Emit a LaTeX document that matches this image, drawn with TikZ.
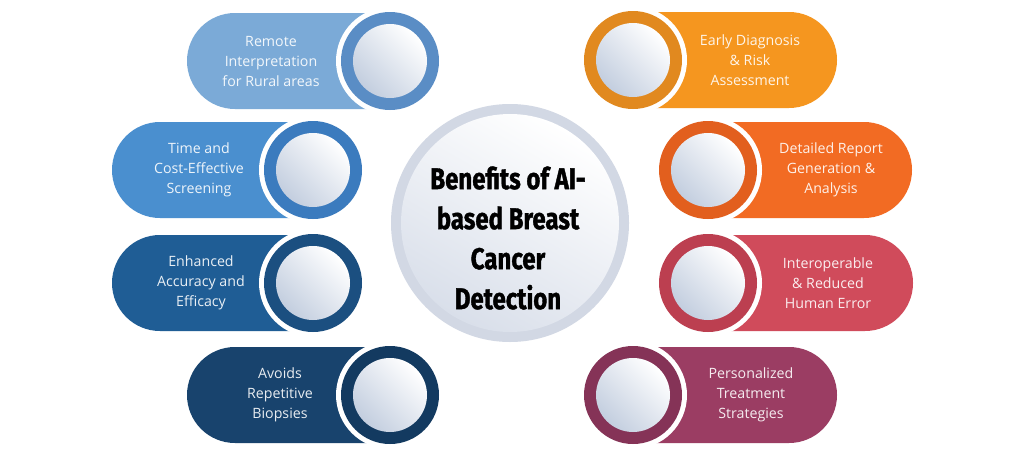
\documentclass[tikz,border=0pt]{standalone}
\usepackage{fontspec}
\setmainfont{Open Sans}
\newfontfamily\titlefont[FakeStretch=0.8,FakeBold=1.2]{Fira Sans}
\usepackage{tikz}
\usetikzlibrary{calc}

\definecolor{pillA}{HTML}{7BAAD7}
\definecolor{ringA}{HTML}{5A8DC5}
\definecolor{pillB}{HTML}{4A8FCF}
\definecolor{ringB}{HTML}{3B7BBE}
\definecolor{pillC}{HTML}{1F5D95}
\definecolor{ringC}{HTML}{1B4F80}
\definecolor{pillD}{HTML}{18436D}
\definecolor{ringD}{HTML}{133A60}
\definecolor{pillE}{HTML}{F5961F}
\definecolor{ringE}{HTML}{E1891F}
\definecolor{pillF}{HTML}{F26B23}
\definecolor{ringF}{HTML}{E25F1E}
\definecolor{pillG}{HTML}{D04B5B}
\definecolor{ringG}{HTML}{BC3F50}
\definecolor{pillH}{HTML}{9B3D63}
\definecolor{ringH}{HTML}{853357}
\definecolor{diskgrey}{HTML}{C3CEDF}
\definecolor{hubring}{HTML}{D2D8E4}
\definecolor{hubgrey}{HTML}{D9DFEA}

\begin{document}
\begin{tikzpicture}[x=1pt,y=-1pt,
    pill/.style={rectangle, rounded corners=48pt, minimum height=96pt, inner sep=0pt},
    gap/.style={circle, fill=white, minimum size=108pt, inner sep=0pt},
    ring/.style={circle, minimum size=98pt, inner sep=0pt},
    disk/.style={circle, minimum size=74pt, inner sep=0pt, shading=axis,
      top color=white, bottom color=diskgrey, shading angle=-45},
    benefit/.style={align=center, text=white, text opacity=0.9,
      font=\fontsize{14.2}{20}\selectfont}]

  \useasboundingbox (0,0) rectangle (1024,455);
  \fill[white] (0,0) rectangle (1024,455);

  % centre circle
  \node[circle, fill=hubring, minimum size=238pt, inner sep=0pt] (hub) at (510,223) {};
  \node[circle, minimum size=218pt, inner sep=0pt, shading=axis, top color=white,
    bottom color=hubgrey, shading angle=-30] (hubdisk) at (hub.center) {};
  \node[align=center, font=\titlefont\bfseries\fontsize{30}{40}\selectfont] (title)
    at (508,238) {Benefits of AI-\\based Breast\\Cancer\\Detection};

  % the eight benefits: name/ring x/ring y/far end x/text x/side/pill colour/ring colour/text
  \foreach \n/\cx/\cy/\fx/\tx/\side/\pc/\rc/\txt in {
      remote/390/61/187/271/-1/pillA/ringA/{Remote\\Interpretation\\for Rural areas},
      time/313/170/112/199/-1/pillB/ringB/{Time and\\Cost-Effective\\Screening},
      accuracy/313/283/112/201/-1/pillC/ringC/{Enhanced\\Accuracy and\\Efficacy},
      biopsy/390/395/187/280/-1/pillD/ringD/{Avoids\\Repetitive\\Biopsies},
      early/633/60/837/750/1/pillE/ringE/{Early Diagnosis\\\& Risk\\Assessment},
      report/708/170/912/831/1/pillF/ringF/{Detailed Report\\Generation \&\\Analysis},
      interop/708/283/913/828/1/pillG/ringG/{Interoperable\\\& Reduced\\Human Error},
      treatment/633/395/837/751/1/pillH/ringH/{Personalized\\Treatment\\Strategies}}{
    \pgfmathsetmacro\px{(\fx+\cx-\side*48)/2}
    \pgfmathsetmacro\pw{abs(\fx-\cx+\side*48)}
    \node[pill, fill=\pc, minimum width=\pw pt] (pill-\n) at (\px,\cy) {};
    \node[gap] (gap-\n) at (\cx,\cy) {};
    \node[ring, fill=\rc] (ring-\n) at (\cx,\cy) {};
    \node[disk] (disk-\n) at (\cx,\cy) {};
    \node[benefit] (text-\n) at (\tx,\cy) {\txt};
  }
\end{tikzpicture}
\end{document}
